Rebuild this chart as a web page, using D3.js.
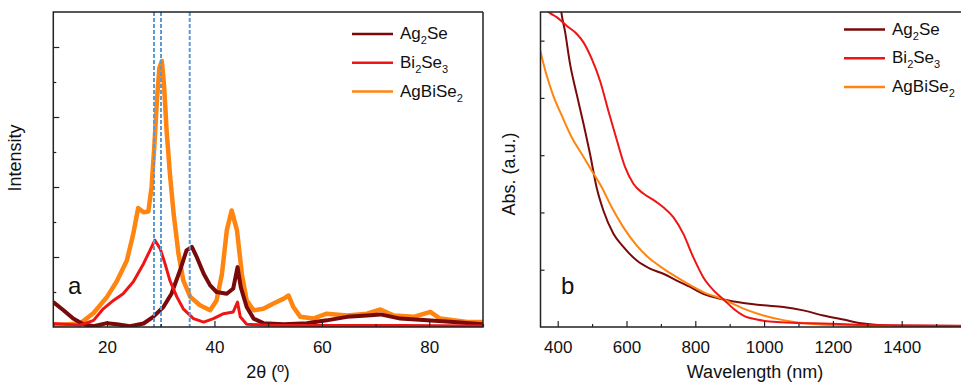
<!DOCTYPE html>
<html>
<head>
<meta charset="utf-8">
<script src="https://cdn.jsdelivr.net/npm/d3@7"></script>
<style>
  body { margin: 0; background: #fff; }
  text { font-family: "Liberation Sans", Arial, sans-serif; fill: #111; }
</style>
</head>
<body>
<svg id="chart" width="961" height="384"></svg>
<script>
// Series names + colours
var seriesNames = ['Ag2Se', 'Bi2Se3', 'AgBiSe2'];
var seriesColors = ['#7a0a0a', '#f01515', '#ff8410'];

// (a) XRD: [2theta, intensity]
var xrdAg2Se = [[10,0.71],[11.9,0.48],[13.7,0.24],[15.6,0.08],[17.5,0.02],[20,0.11],[21.8,0.08],[24.3,0.02],
  [26.8,0.1],[28.6,0.29],[30.5,0.57],[32,0.95],[33.6,1.62],[34.8,2.19],[35.8,2.29],[36.7,2.0],[38,1.52],
  [39.2,1.19],[40.4,1.0],[42.3,0.95],[43.5,1.1],[44.3,1.71],[44.9,1.14],[46,0.57],[47.3,0.24],[49.1,0.11],
  [52.9,0.08],[57.2,0.11],[60.9,0.19],[64.7,0.29],[68.4,0.33],[70.9,0.36],[74.6,0.24],[79.6,0.19],[84.5,0.14],[90,0.08]];
var xrdBi2Se3 = [[10,0.1],[15,0.05],[17.5,0.19],[19.3,0.52],[21.2,0.76],[23,0.95],[24.9,1.29],[26.8,1.81],[28,2.19],
  [28.9,2.48],[29.9,2.24],[30.8,1.81],[31.7,1.33],[33,0.86],[34.2,0.52],[36.1,0.24],[38,0.14],[39.8,0.24],
  [41.7,0.38],[43.5,0.43],[44.3,0.71],[44.8,0.29],[46,0.08],[49.8,0.05],[60,0.04],[75,0.04],[90,0.03]];
var xrdAgBiSe2 = [[10,0.05],[15,0.1],[17.5,0.4],[20,0.86],[21.8,1.3],[23.7,1.9],[24.9,2.67],[25.8,3.4],[26.8,3.28],
  [27.7,3.3],[28.3,4.0],[28.8,5.14],[29.3,6.5],[29.75,7.4],[30.2,7.6],[30.6,6.95],[31.1,5.6],[31.7,4.4],
  [32.4,3.24],[33.3,2.1],[34.2,1.33],[35.5,0.86],[37.3,0.62],[39.2,0.48],[40.4,0.76],[41.4,1.52],[42.3,2.76],
  [43.2,3.33],[44.2,2.76],[45.1,1.52],[46,0.76],[47.3,0.48],[49.1,0.52],[51,0.67],[52.9,0.81],[53.8,0.9],
  [54.7,0.57],[56,0.29],[58.4,0.24],[60.9,0.38],[64.7,0.33],[68.4,0.38],[70.9,0.5],[73.4,0.33],[77.1,0.29],
  [80.2,0.43],[82,0.24],[87,0.14],[90,0.14]];
var refPeaks = [28.75, 30.05, 35.4];

// (b) absorption: [wavelength nm, abs]
var absAg2Se = [[405,5.8],[411,5.48],[421,5.17],[436,4.59],[455,4.07],[475,3.55],[494,3.02],[513,2.44],[533,2.03],
  [562,1.63],[591,1.4],[630,1.16],[668,1.02],[707,0.93],[746,0.81],[785,0.7],[823,0.58],[882,0.48],[940,0.42],
  [998,0.38],[1056,0.35],[1114,0.29],[1172,0.2],[1230,0.13],[1289,0.06],[1347,0.03],[1415,0.02],[1600,0.015]];
var absBi2Se3 = [[350,5.62],[378,5.48],[397,5.41],[426,5.26],[455,5.12],[475,4.97],[499,4.68],[523,4.3],[547,3.78],
  [572,3.26],[596,2.79],[620,2.5],[649,2.33],[678,2.22],[707,2.09],[736,1.92],[765,1.63],[794,1.22],[823,0.87],
  [853,0.64],[882,0.48],[911,0.32],[940,0.2],[979,0.13],[1027,0.09],[1095,0.07],[1172,0.06],[1269,0.04],
  [1366,0.03],[1570,0.02],[1600,0.02]];
var absAgBiSe2 = [[349,4.83],[368,4.39],[387,4.04],[412,3.69],[441,3.31],[470,3.02],[499,2.73],[528,2.44],[557,2.09],
  [591,1.74],[630,1.42],[668,1.19],[707,1.02],[746,0.87],[785,0.73],[823,0.61],[882,0.48],[940,0.32],[998,0.2],
  [1056,0.12],[1114,0.07],[1172,0.04],[1269,0.02],[1370,0.01]];

// Tick values
var xrdMajorTicks = [20, 40, 60, 80];
var xrdMinorTicks = [10, 30, 50, 70, 90];
var xrdYTicks = [1, 2, 3, 4, 5, 6, 7, 8];
var absMajorTicks = [400, 600, 800, 1000, 1200, 1400];
var absMinorTicks = [500, 700, 900, 1100, 1300, 1500];
var absYTicks = [1, 2, 3, 4, 5];

var svg = d3.select('#chart');
var frameColor = '#222';

function legend(g, x0, y0, step, textX) {
  var labels = [
    [['Ag', 0], ['2', 1], ['Se', 0]],
    [['Bi', 0], ['2', 1], ['Se', 0], ['3', 1]],
    [['AgBiSe', 0], ['2', 1]]
  ];
  labels.forEach(function(parts, i) {
    var y = y0 + i * step;
    g.append('line').attr('x1', x0).attr('x2', x0 + 41).attr('y1', y - 5).attr('y2', y - 5)
      .attr('stroke', seriesColors[i]).attr('stroke-width', 2.5);
    var t = g.append('text').attr('x', textX).attr('y', y).attr('font-size', 17);
    parts.forEach(function(p) {
      t.append('tspan').text(p[0])
        .attr('font-size', p[1] ? 11 : 17)
        .attr('baseline-shift', p[1] ? '-5' : null);
    });
  });
}

function panel(opts) {
  var x = d3.scaleLinear().domain(opts.xDomain).range(opts.xRange);
  var y = d3.scaleLinear().domain(opts.yDomain).range([327, 12]);
  var g = svg.append('g');
  var clipId = 'clip' + opts.id;
  svg.append('clipPath').attr('id', clipId).append('rect')
    .attr('x', opts.xRange[0]).attr('y', 12)
    .attr('width', Math.min(opts.xRange[1], 961) - opts.xRange[0]).attr('height', 315);

  var plot = g.append('g').attr('clip-path', 'url(#' + clipId + ')');
  var line = d3.line().x(function(d) { return x(d[0]); }).y(function(d) { return y(d[1]); })
    .curve(opts.curve);
  opts.order.forEach(function(i) {
    plot.append('path').datum(opts.series[i]).attr('d', line)
      .attr('fill', 'none').attr('stroke', seriesColors[i])
      .attr('stroke-width', opts.widths[i]).attr('stroke-linejoin', 'round');
  });
  if (opts.peaks) {
    plot.selectAll('.peak').data(opts.peaks).enter().append('line')
      .attr('x1', function(d) { return x(d); }).attr('x2', function(d) { return x(d); })
      .attr('y1', 12).attr('y2', 327)
      .attr('stroke', '#5b9bd5').attr('stroke-width', 2).attr('stroke-dasharray', '4,2');
  }

  // Axes
  var xMajor = d3.axisBottom(x).tickValues(opts.xMajor).tickSize(-6).tickPadding(14).tickFormat(d3.format('d'));
  var xMinor = d3.axisBottom(x).tickValues(opts.xMinor).tickSize(-3).tickFormat('');
  var gx = g.append('g').attr('transform', 'translate(0,327)');
  gx.call(xMajor);
  gx.append('g').call(xMinor);
  var gy = g.append('g').attr('transform', 'translate(' + opts.xRange[0] + ',0)');
  gy.call(d3.axisLeft(y).tickValues(opts.yTicks).tickSize(0).tickFormat(''));
  gy.selectAll('.tick').append('line')
    .attr('x2', function(d) { return opts.yTickLen(d); }).attr('stroke', frameColor);
  g.selectAll('.domain').remove();
  g.selectAll('.tick line').attr('stroke', frameColor).attr('stroke-width', 1.2);
  g.selectAll('.tick text').attr('font-size', 17).attr('fill', '#111')
    .attr('font-family', '"Liberation Sans", Arial, sans-serif');

  // Frame
  var right = opts.xRange[1];
  g.append('path')
    .attr('d', 'M' + right + ',12H' + opts.xRange[0] + 'V327H' + right + (opts.closed ? 'V12' : ''))
    .attr('fill', 'none').attr('stroke', frameColor).attr('stroke-width', 1.5);

  // Titles
  g.append('text').attr('x', opts.titleX).attr('y', 378).attr('text-anchor', 'middle')
    .attr('font-size', 18).text(opts.xTitle);
  g.append('text').attr('transform', 'translate(' + opts.yTitleX + ',' + opts.yTitleY + ') rotate(-90)')
    .attr('text-anchor', 'middle').attr('font-size', 18).text(opts.yTitle);
  g.append('text').attr('x', opts.letterX).attr('y', 294).attr('font-size', 24).text(opts.letter);
  legend(g, opts.legendX, opts.legendY, opts.legendStep, opts.legendX + 48);
}

panel({
  id: 'a', xDomain: [10, 90], xRange: [53.3, 483], yDomain: [0, 9],
  series: [xrdAg2Se, xrdBi2Se3, xrdAgBiSe2], order: [2, 0, 1], widths: [4, 3, 4.5],
  curve: d3.curveLinear, peaks: refPeaks,
  xMajor: xrdMajorTicks, xMinor: xrdMinorTicks, yTicks: xrdYTicks,
  yTickLen: function(d) { return d % 2 === 0 ? 6 : 3; },
  closed: true, xTitle: '2\u03b8 (\u00ba)', titleX: 268, yTitle: 'Intensity', yTitleX: 21, yTitleY: 158,
  letter: 'a', letterX: 68, legendX: 352, legendY: 39, legendStep: 28.8
});

panel({
  id: 'b', xDomain: [350, 1600], xRange: [540.5, 970.5], yDomain: [0, 5.5],
  series: [absAg2Se, absBi2Se3, absAgBiSe2], order: [0, 2, 1], widths: [2, 2, 2],
  curve: d3.curveMonotoneX, peaks: null,
  xMajor: absMajorTicks, xMinor: absMinorTicks, yTicks: absYTicks,
  yTickLen: function() { return 4; },
  closed: false, xTitle: 'Wavelength (nm)', titleX: 755, yTitle: 'Abs. (a.u.)', yTitleX: 515, yTitleY: 174,
  letter: 'b', letterX: 561, legendX: 844, legendY: 34.5, legendStep: 28.7
});
</script>
</body>
</html>
